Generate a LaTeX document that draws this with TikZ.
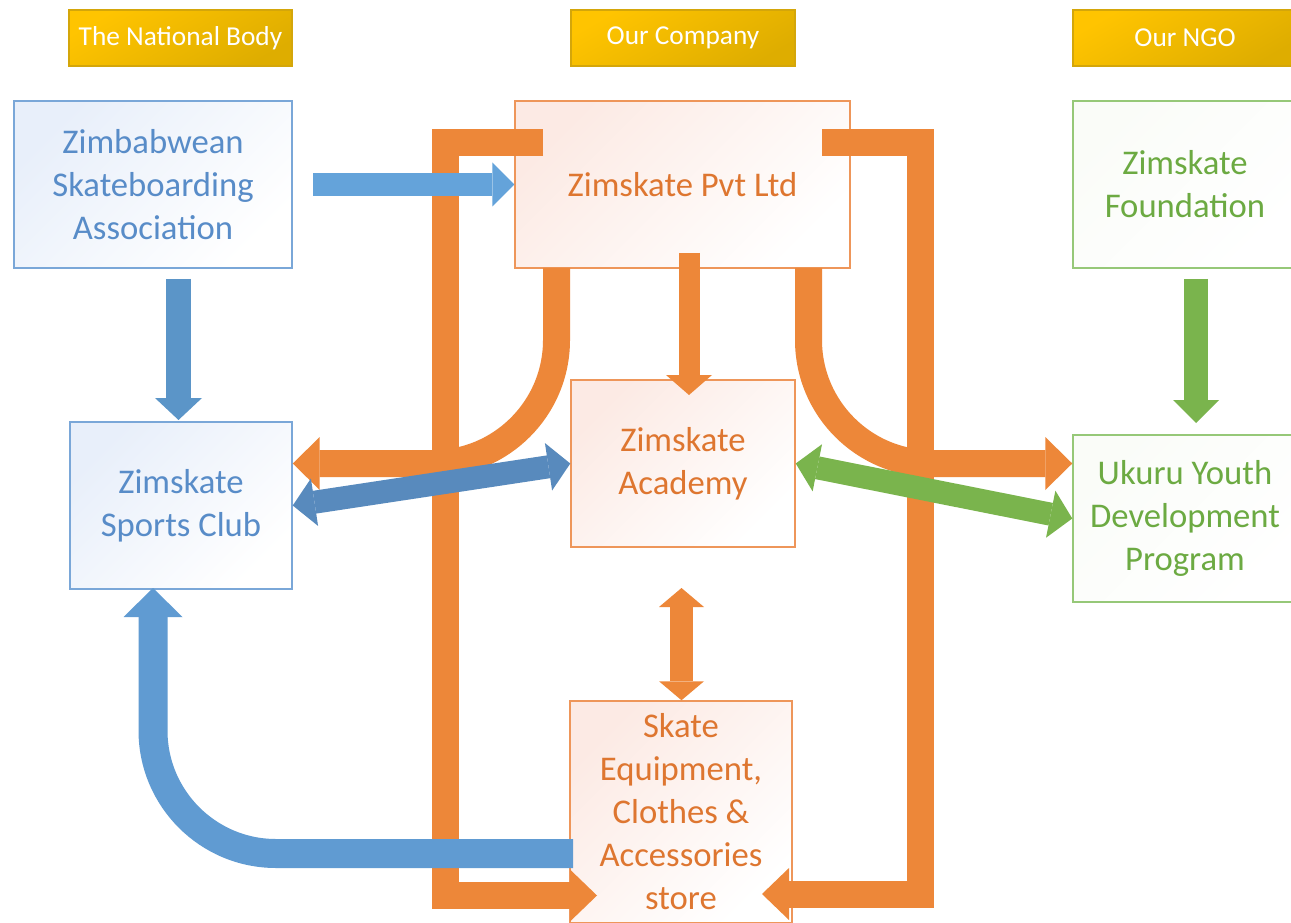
\documentclass[tikz,border=0pt]{standalone}
\usepackage{fontspec}
\setmainfont{Carlito}
\usetikzlibrary{arrows.meta,calc}
\definecolor{goldA}{RGB}{255,196,0}
\definecolor{goldB}{RGB}{222,173,0}
\definecolor{goldE}{RGB}{212,166,10}
\definecolor{orA}{RGB}{237,135,57}
\definecolor{blA}{RGB}{100,163,218}
\definecolor{blB}{RGB}{91,149,200}
\definecolor{blC}{RGB}{88,138,189}
\definecolor{blD}{RGB}{96,155,210}
\definecolor{grA}{RGB}{122,180,77}
\definecolor{blT}{RGB}{88,140,200}
\definecolor{orT}{RGB}{222,118,48}
\definecolor{grT}{RGB}{108,170,66}
\definecolor{blE}{RGB}{122,167,216}
\definecolor{orE}{RGB}{238,150,90}
\definecolor{grE}{RGB}{150,200,120}
\definecolor{blF}{RGB}{232,239,250}
\definecolor{orF}{RGB}{252,234,228}
\definecolor{grF}{RGB}{250,252,248}
\begin{document}
\begin{tikzpicture}[x=0.75pt,y=-0.75pt,
  hdr/.style={draw=goldE, line width=0.8pt, top color=goldA, bottom color=goldB, shading angle=30,
    minimum height=42pt, inner sep=0pt, text=white, font=\fontsize{20.5}{24}\selectfont},
  boxbase/.style={line width=1.1pt, minimum height=125.25pt, inner sep=0pt, align=center,
    font=\fontsize{26}{32.25}\selectfont},
  bbox/.style={boxbase, draw=blE, text=blT, top color=blF, bottom color=white, shading angle=45},
  obox/.style={boxbase, draw=orE, text=orT, top color=orF, bottom color=white, shading angle=45},
  gbox/.style={boxbase, draw=grE, text=grT, top color=grF, bottom color=white, shading angle=45},
  blk/.style={line cap=butt, line join=miter},
]
\useasboundingbox (0,0) rectangle (1291,923);
\clip (0,0) rectangle (1291,923);
\fill[white] (0,0) rectangle (1291,923);

% headers
\node[hdr, minimum width=167.25pt] (h1) at (180.5,38) {The National Body};
\node[hdr, minimum width=168pt] (h2) at (683,38) {Our Company};
\node[hdr, minimum width=168pt] (h3) at (1185,38) {Our NGO};

% boxes
\node[bbox, minimum width=208.5pt] (zsa) at (153,184.5) {Zimbabwean\\Skateboarding\\Association};
\node[obox, minimum width=251.25pt] (pvt) at (682.5,184.5) {Zimskate Pvt Ltd};
\node[gbox, minimum width=168pt] (fdn) at (1185,184.5) {Zimskate\\Foundation};
\node[bbox, minimum width=166.5pt] (sc) at (181,505.5) {Zimskate\\Sports Club};
\node[obox, minimum width=168pt] (acad) at (683,463.5) {Zimskate\\Academy};
\node[gbox, minimum width=168pt] (uk) at (1185,518.5) {Ukuru Youth\\Development\\Program};
\node[obox, minimum width=166.5pt, minimum height=166.5pt] (store) at (681,812) {Skate\\Equipment,\\Clothes \&\\Accessories\\store};

% named coordinates for connector ends
\coordinate (lb1) at (543,142.5);
\coordinate (lb2) at (445,142.5);
\coordinate (lb3) at (445,895.5);
\coordinate (lbt) at (597,895.5);
\coordinate (rb1) at (822,142.5);
\coordinate (rb2) at (920.5,142.5);
\coordinate (rb3) at (920.5,894);
\coordinate (rbt) at (762,894);
\coordinate (lc) at (556.5,268);
\coordinate (rc) at (808.5,268);
\coordinate (pa) at (689,253);
\coordinate (pat) at (689,395);
\coordinate (as1) at (681.5,588);
\coordinate (zp) at (313,184.5);
\coordinate (zs) at (178.5,279);
\coordinate (zst) at (178.5,420);
\coordinate (fu) at (1196,279);
\coordinate (fut) at (1196,423);
\coordinate (bb) at (573,853.5);
\coordinate (bbt) at (153,588);

% orange connectors
\draw[blk, orA, line width=20.25pt, -{Triangle[length=20.25pt,width=39pt,line width=0pt]}]
  (lb1) -- (lb2) -- (lb3) -- (lbt);
\draw[blk, orA, line width=20.25pt, -{Triangle[length=20.25pt,width=39pt,line width=0pt]}]
  (rb1) -- (rb2) -- (rb3) -- (rbt);
\draw[blk, orA, line width=20.25pt, rounded corners=92.6pt, -{Triangle[length=20.25pt,width=39.75pt,line width=0pt]}]
  (lc) |- (acad.west -| sc.east);
\draw[blk, orA, line width=20.25pt, rounded corners=92.6pt, -{Triangle[length=20.25pt,width=39.75pt,line width=0pt]}]
  (rc) |- (acad.east -| uk.west);
\draw[blk, orA, line width=15.75pt, -{Triangle[length=15pt,width=34.5pt,line width=0pt]}]
  (pa) -- (pat);
\draw[blk, orA, line width=17.25pt, {Triangle[length=14.25pt,width=33.75pt,line width=0pt]}-{Triangle[length=14.25pt,width=33.75pt,line width=0pt]}]
  (as1) -- (as1 |- store.north);

% blue connectors
\draw[blk, blA, line width=17.25pt, -{Triangle[length=16.5pt,width=33pt,line width=0pt]}]
  (zp) -- (zp -| pvt.west);
\draw[blk, blB, line width=18.75pt, -{Triangle[length=16.5pt,width=35.25pt,line width=0pt]}]
  (zs) -- (zst);
\draw[blk, blC, line width=17.25pt, {Triangle[length=16.5pt,width=36pt,line width=0pt]}-{Triangle[length=16.5pt,width=36pt,line width=0pt]}]
  (sc.east) -- (acad.west);
\draw[blk, blD, line width=21.75pt, rounded corners=92.25pt, -{Triangle[length=21.75pt,width=44.25pt,line width=0pt]}]
  (bb) -| (bbt);

% green connectors
\draw[blk, grA, line width=18pt, -{Triangle[length=17.25pt,width=34.5pt,line width=0pt]}]
  (fu) -- (fut);
\draw[blk, grA, line width=17.25pt, {Triangle[length=16.5pt,width=36pt,line width=0pt]}-{Triangle[length=16.5pt,width=36pt,line width=0pt]}]
  (acad.east) -- (uk.west);
\end{tikzpicture}
\end{document}
